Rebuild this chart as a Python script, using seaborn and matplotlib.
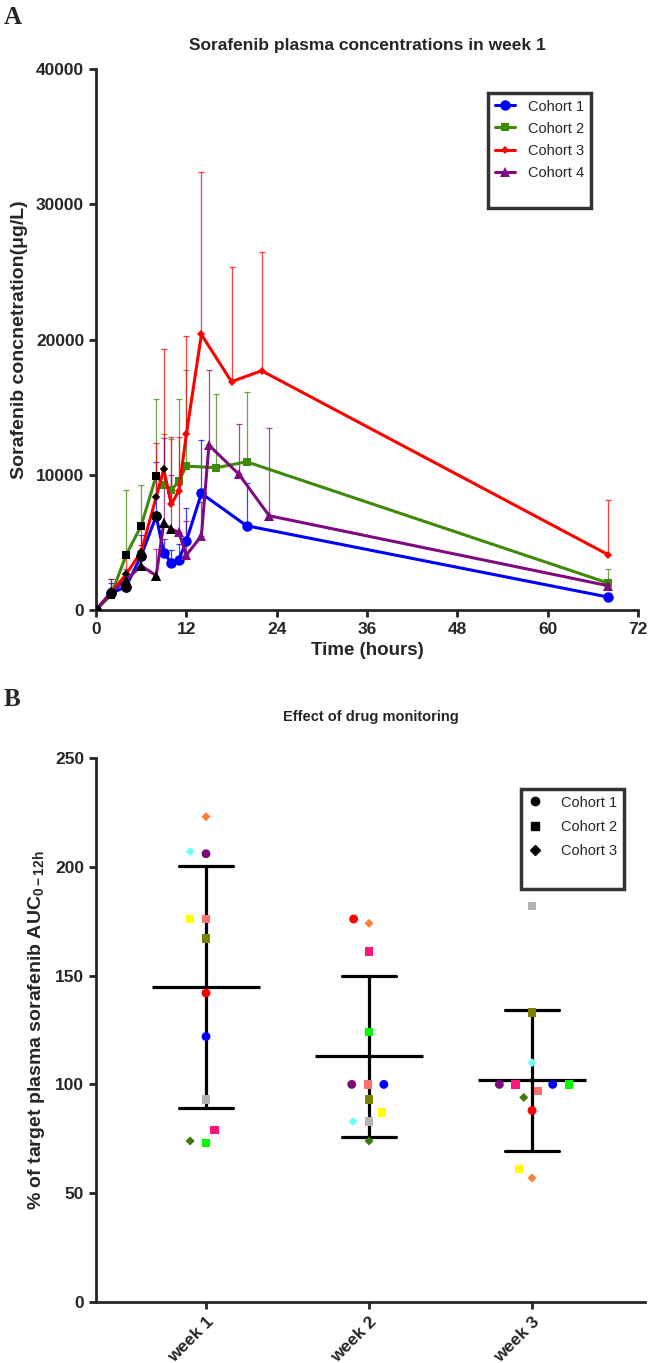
import numpy as np
import pandas as pd
import matplotlib
matplotlib.use("Agg")
import matplotlib.pyplot as plt
import seaborn as sns
from matplotlib.lines import Line2D
from matplotlib.markers import MarkerStyle

# ---------------- Panel A data ----------------
c1_time = [0, 2, 4, 6, 8, 9, 10, 11, 12, 14, 20, 68]
c1_mean = [0, 1230, 1730, 4015, 6950, 4240, 3500, 3700, 5100, 8620, 6230, 960]
c1_sd = [0, 800, 600, 1500, 4000, 1000, 900, 1200, 2460, 3940, 3160, 300]

c2_time = [0, 2, 4, 6, 8, 9, 10, 11, 12, 16, 20, 68]
c2_mean = [0, 1100, 4065, 6230, 9930, 9210, 8870, 9530, 10640, 10520, 10960, 2000]
c2_sd = [0, 500, 4800, 3000, 5670, 3800, 3800, 6060, 7100, 5440, 5170, 1000]

c3_time = [0, 2, 4, 6, 8, 9, 10, 11, 12, 14, 18, 22, 68]
c3_mean = [0, 1300, 2640, 4300, 8370, 10400, 7810, 8820, 12980, 20370, 16880, 17690, 4100]
c3_sd = [0, 1000, 1500, 2000, 4000, 8900, 5000, 4000, 7270, 11980, 8490, 8790, 4000]

c4_time = [0, 2, 4, 6, 8, 9, 10, 11, 12, 14, 15, 19, 23, 68]
c4_mean = [0, 1300, 2200, 3270, 2540, 6400, 5990, 5740, 4060, 5470, 12190, 10030, 6970, 1800]
c4_sd = [0, 1000, 800, 1500, 2000, 6300, 4000, 3500, 2500, 2500, 5550, 3690, 6460, 500]

# number of leading points drawn with black markers in the original figure
c_black_n = [5, 5, 6, 7]

cohorts_a = ["Cohort 1", "Cohort 2", "Cohort 3", "Cohort 4"]
x_ticks_a = [0, 12, 24, 36, 48, 60, 72]
y_ticks_a = [0, 10000, 20000, 30000, 40000]

# ---------------- Panel B data ----------------
weeks = ["week 1", "week 2", "week 3"]
patients = ["P1", "P2", "P3", "P4", "P5", "P6", "P7", "P8", "P9", "P10", "P11", "P12"]
patient_cohort = ["Cohort 1"] * 3 + ["Cohort 2"] * 6 + ["Cohort 3"] * 3
patient_colors = ["#7A0C7A", "#FF0000", "#0000FF",
                  "#FF6E6E", "#FFFF00", "#808000", "#B4B4B4", "#FF1478", "#00FF00",
                  "#FF8033", "#6EFFFF", "#3F7A0A"]
week1_vals = [206, 142, 122, 176, 176, 167, 93, 79, 73, 223, 207, 74]
week2_vals = [100, 176, 100, 100, 87, 93, 83, 161, 124, 174, 83, 74]
week3_vals = [100, 88, 100, 97, 61, 133, 182, 100, 100, 57, 110, 94]
y_ticks_b = [0, 50, 100, 150, 200, 250]

# ---------------- style ----------------
sns.set_style("ticks")
plt.rcParams["font.family"] = ["Liberation Sans", "DejaVu Sans"]
plt.rcParams["mathtext.fontset"] = "custom"
plt.rcParams["mathtext.rm"] = "Liberation Sans:bold"
plt.rcParams["mathtext.it"] = "Liberation Sans:bold"
plt.rcParams["mathtext.bf"] = "Liberation Sans:bold"

W, H = 648, 1363
fig = plt.figure(figsize=(W / 100, H / 100), dpi=100)


def px_axes(left, top, right, bottom):
    return fig.add_axes([left / W, 1 - bottom / H, (right - left) / W, (bottom - top) / H])


axA = px_axes(96, 69, 638, 610)
axB = px_axes(96, 758, 645, 1302)

colors_a = ["#0000FF", "#3F8A0A", "#FF0000", "#800A80"]
markers_a = ["o", "s", "D", "^"]
msizes_a = [7.5, 6.0, 4.2, 6.5]
series = [(c1_time, c1_mean, c1_sd), (c2_time, c2_mean, c2_sd),
          (c3_time, c3_mean, c3_sd), (c4_time, c4_mean, c4_sd)]

for i, (t, m, sd) in enumerate(series):
    t = np.array(t, float)
    m = np.array(m, float)
    sd = np.array(sd, float)
    axA.errorbar(t, m, yerr=[np.zeros_like(sd), sd], fmt="none", ecolor=colors_a[i],
                 elinewidth=0.9, capsize=2.2, capthick=0.9, alpha=0.75, zorder=2)
    sns.lineplot(x=t, y=m, ax=axA, color=colors_a[i], marker=markers_a[i],
                 markersize=msizes_a[i], markeredgewidth=0, linewidth=2.2,
                 zorder=3 + i * 0.1, legend=False)
for i, (t, m, sd) in enumerate(series):
    n = c_black_n[i]
    axA.plot(t[:n], m[:n], linestyle="none", marker=markers_a[i], color="black",
             markersize=msizes_a[i], markeredgewidth=0, zorder=5)

axA.set_xlim(0, 72)
axA.set_ylim(0, 40000)
axA.set_xticks(x_ticks_a)
axA.set_yticks(y_ticks_a)
axA.set_xlabel("Time (hours)", fontsize=13.5, fontweight="bold", labelpad=4)
axA.set_ylabel("Sorafenib concnetration(\u03bcg/L)", fontsize=14, fontweight="bold", labelpad=6)
axA.set_title("Sorafenib plasma concentrations in week 1", fontsize=12.5, fontweight="bold", pad=14)

handles_a = [Line2D([], [], color=colors_a[i], marker=markers_a[i], markersize=msizes_a[i],
                    markeredgewidth=0, linewidth=2.2) for i in range(4)]
handles_a.append(Line2D([], [], linestyle="none"))
leg = axA.legend(handles_a, cohorts_a + [""], loc="upper left",
                 bbox_to_anchor=(488 / W, 1 - 93 / H), bbox_transform=fig.transFigure,
                 frameon=True, fancybox=False, fontsize=10.5, handlelength=1.4,
                 borderaxespad=0, labelspacing=0.55, borderpad=0.45, handletextpad=0.9)
leg.get_frame().set_edgecolor("black")
leg.get_frame().set_linewidth(2.5)

# ---------------- Panel B ----------------
rows = []
for w, vals in zip(weeks, [week1_vals, week2_vals, week3_vals]):
    for p, c, v in zip(patients, patient_cohort, vals):
        rows.append({"week": w, "patient": p, "cohort": c, "value": v})
dfB = pd.DataFrame(rows)

sns.pointplot(data=dfB, x="week", y="value", order=weeks, errorbar="sd", color="black",
              linestyle="none", marker="_", markersize=78, markeredgewidth=2.3,
              capsize=0.33, err_kws={"linewidth": 2.3}, ax=axB)
n_lines = len(axB.collections)
sns.swarmplot(data=dfB, x="week", y="value", hue="patient", order=weeks,
              palette=dict(zip(patients, patient_colors)), size=11, linewidth=0,
              legend=False, ax=axB)

marker_map = {"Cohort 1": ("o", 0.58), "Cohort 2": ("s", 0.55), "Cohort 3": ("D", 0.42)}
swarm_colls = axB.collections[n_lines:]
for coll, w in zip(swarm_colls, weeks):
    sub = dfB[dfB["week"] == w]
    paths = []
    for coh in sub["cohort"]:
        mk, sc = marker_map[coh]
        ms = MarkerStyle(mk)
        paths.append(ms.get_path().transformed(ms.get_transform().scale(sc)))
    coll.set_paths(paths)
    coll.set_zorder(4)

axB.set_xlim(-0.675, 2.693)
axB.set_ylim(0, 250)
axB.set_yticks(y_ticks_b)
axB.set_xlabel("")
axB.set_ylabel(r"% of target plasma sorafenib AUC$_{\mathregular{0-12h}}$",
               fontsize=14, fontweight="bold", labelpad=6)
axB.set_title("Effect of drug monitoring", fontsize=10.5, fontweight="bold", pad=27)

handles_b = [Line2D([], [], color="black", marker=m, linestyle="none", markersize=s)
             for m, s in [("o", 6), ("s", 6), ("D", 5)]]
handles_b.append(Line2D([], [], linestyle="none"))
legB = axB.legend(handles_b, ["Cohort 1", "Cohort 2", "Cohort 3", ""], loc="upper left",
                  bbox_to_anchor=(521 / W, 1 - 789 / H), bbox_transform=fig.transFigure,
                  frameon=True, fancybox=False, fontsize=10.5, handlelength=1.0,
                  borderaxespad=0, labelspacing=0.7, borderpad=0.45, handletextpad=1.3)
legB.get_frame().set_edgecolor("black")
legB.get_frame().set_linewidth(2.5)

for ax in (axA, axB):
    sns.despine(ax=ax)
    for s in ("left", "bottom"):
        ax.spines[s].set_linewidth(2)
    ax.tick_params(width=2, length=5, labelsize=12.5)
    for lab in ax.get_xticklabels() + ax.get_yticklabels():
        lab.set_fontweight("bold")

for lab in axB.get_xticklabels():
    lab.set_rotation(45)
    lab.set_ha("right")
    lab.set_rotation_mode("anchor")

fig.text(4 / W, 1 - 18 / H, "A", fontsize=18, fontweight="bold", family="Liberation Serif", va="center")
fig.text(4 / W, 1 - 700 / H, "B", fontsize=18, fontweight="bold", family="Liberation Serif", va="center")

fig.savefig("out.png", dpi=100)
